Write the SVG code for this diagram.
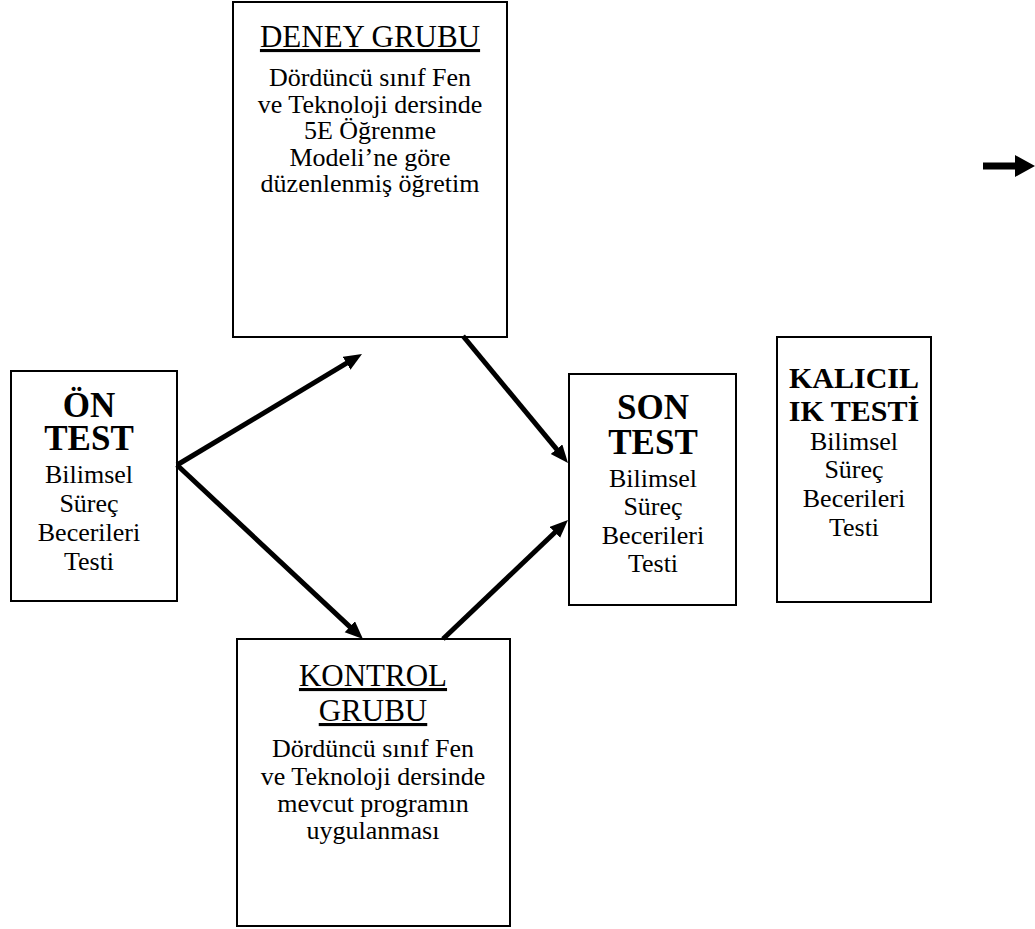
<svg xmlns="http://www.w3.org/2000/svg" width="1035" height="929" viewBox="0 0 1035 929">
<style>
  .box { fill: #ffffff; stroke: #000000; stroke-width: 2; }
  text { font-family: "Liberation Serif", "Times New Roman", serif; fill: #000000; text-anchor: middle; }
  .t { font-size: 31px; text-decoration: underline; }
  .b { font-size: 35px; font-weight: bold; }
  .bk { font-size: 30px; font-weight: bold; }
  .n { font-size: 26px; }
  .conn { stroke: #000000; stroke-width: 5; fill: none; marker-end: url(#ah); }
</style>
<defs>
  <marker id="ah" markerUnits="userSpaceOnUse" markerWidth="20" markerHeight="16" refX="2" refY="7.5" orient="auto">
    <path d="M0,0 L18,7.5 L0,15 z" fill="#000000"/>
  </marker>
</defs>
<rect width="1035" height="929" fill="#ffffff"/>

<g id="deney">
  <rect class="box" x="233" y="2" width="274" height="335"/>
  <text class="t" x="370" y="47">DENEY GRUBU</text>
  <text class="n" x="370" y="86">Dördüncü sınıf Fen</text>
  <text class="n" x="370" y="113">ve Teknoloji dersinde</text>
  <text class="n" x="370" y="139">5E Öğrenme</text>
  <text class="n" x="370" y="166">Modeli’ne göre</text>
  <text class="n" x="370" y="192">düzenlenmiş öğretim</text>
</g>

<g id="on-test">
  <rect class="box" x="11" y="371" width="166" height="230"/>
  <text class="b" x="89" y="417">ÖN</text>
  <text class="b" x="89" y="450">TEST</text>
  <text class="n" x="89" y="483">Bilimsel</text>
  <text class="n" x="89" y="512">Süreç</text>
  <text class="n" x="89" y="541">Becerileri</text>
  <text class="n" x="89" y="570">Testi</text>
</g>

<g id="son-test">
  <rect class="box" x="569" y="374" width="167" height="231"/>
  <text class="b" x="653" y="419">SON</text>
  <text class="b" x="653" y="454">TEST</text>
  <text class="n" x="653" y="487">Bilimsel</text>
  <text class="n" x="653" y="515">Süreç</text>
  <text class="n" x="653" y="544">Becerileri</text>
  <text class="n" x="653" y="572">Testi</text>
</g>

<g id="kalicilik-testi">
  <rect class="box" x="777" y="337" width="154" height="265"/>
  <text class="bk" x="854" y="388">KALICIL</text>
  <text class="bk" x="854" y="421">IK TESTİ</text>
  <text class="n" x="854" y="450">Bilimsel</text>
  <text class="n" x="854" y="478">Süreç</text>
  <text class="n" x="854" y="507">Becerileri</text>
  <text class="n" x="854" y="536">Testi</text>
</g>

<g id="kontrol">
  <rect class="box" x="237" y="639" width="273" height="287"/>
  <text class="t" x="373" y="686">KONTROL</text>
  <text class="t" x="373" y="721">GRUBU</text>
  <text class="n" x="373" y="757">Dördüncü sınıf Fen</text>
  <text class="n" x="373" y="785">ve Teknoloji dersinde</text>
  <text class="n" x="373" y="812">mevcut programın</text>
  <text class="n" x="373" y="839">uygulanması</text>
</g>

<g id="connectors">
  <line class="conn" x1="177" y1="465" x2="348.3" y2="362.2"/>
  <line class="conn" x1="177" y1="465" x2="351.3" y2="628.1"/>
  <line class="conn" x1="463" y1="336" x2="557.8" y2="450.7"/>
  <line class="conn" x1="443" y1="639" x2="556.4" y2="531.0"/>
  <line x1="983" y1="166" x2="1016" y2="166" stroke="#000000" stroke-width="7"/>
  <polygon points="1015,155 1035,166 1015,177" fill="#000000"/>
</g>
</svg>
